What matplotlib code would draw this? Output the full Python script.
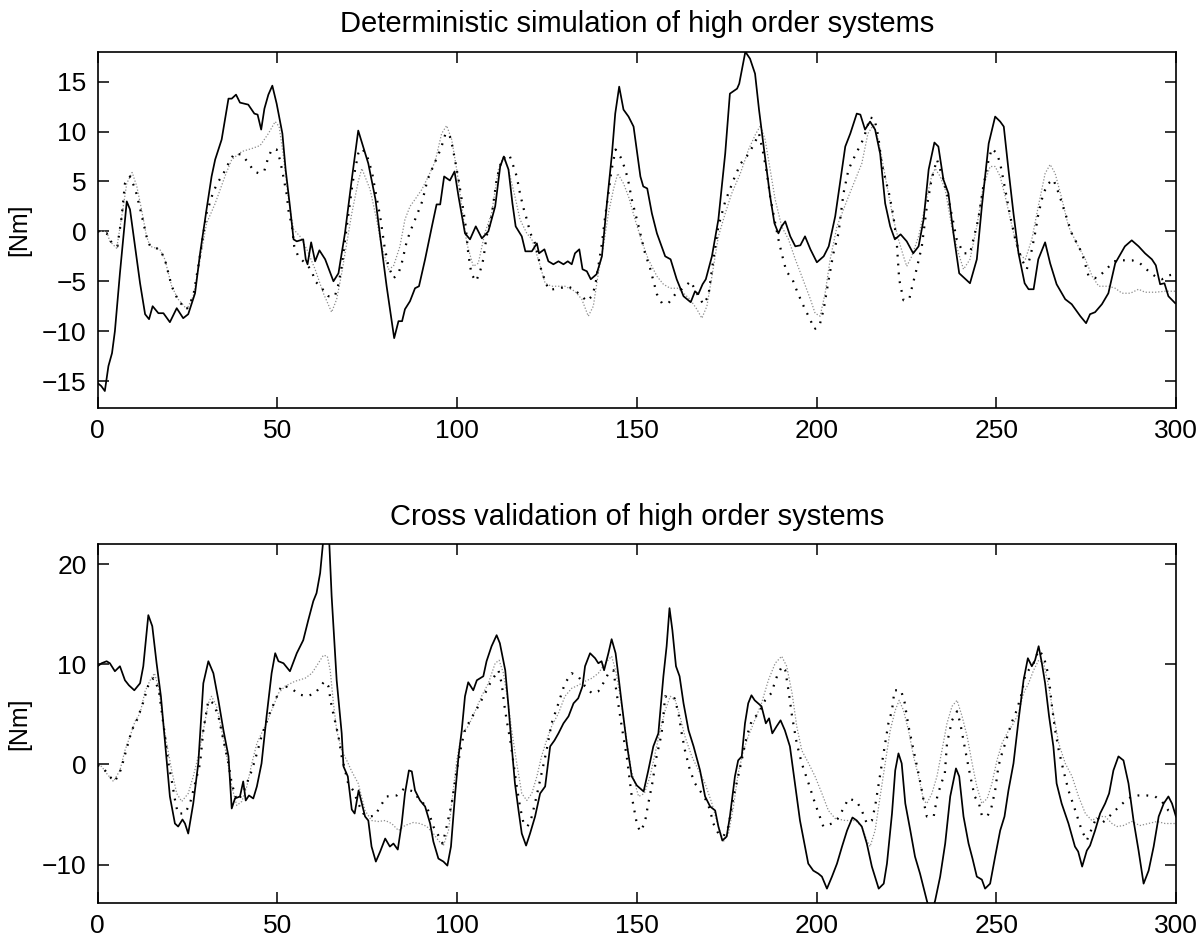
import numpy as np
import matplotlib
matplotlib.use("Agg")
import matplotlib.pyplot as plt

# ── data (x, y) ────────────────────────────────────────────────────
top_solid = [
    (0, -15.2), (1, -15.5), (2, -16), (3, -13.5), (4, -12.2), (4.8, -10), (6.2, -4.2), (8.1, 3), (9, 2.2),
    (10.4, -1.5), (11.8, -5.2), (13.2, -8.3), (14.3, -8.8), (15.3, -7.5), (16.9, -8.2), (18.3, -8.2),
    (20.1, -9.1), (22, -7.7), (23.8, -8.7), (25.2, -8.3), (27.1, -6.2), (28.5, -2.2), (30.3, 2.2),
    (31.7, 5.5), (32.7, 7.2), (34.5, 9.2), (36.4, 13.3), (37.3, 13.3), (38.5, 13.7), (39.6, 12.9),
    (41.9, 12.7), (43.6, 11.8), (44.5, 11.7), (45.5, 10.2), (46.4, 12.3), (47.5, 13.7), (48.6, 14.6),
    (49.8, 12.8), (51.4, 9.8), (52.3, 6.2), (53.5, 2.5), (54.5, -0.8), (55.4, -1), (57.2, -0.8),
    (57.9, -2.8), (58.4, -3.3), (59.4, -1.1), (60.5, -3), (61.7, -1.9), (63.3, -2.8), (65.6, -5),
    (67, -4.2), (68.8, -0.2), (70.7, 5.2), (72.5, 10.1), (75.3, 6.8), (77.3, 3.2), (78.6, -0.5),
    (80.4, -5.5), (82.5, -10.7), (83.7, -9), (84.7, -9), (85.5, -7.8), (86.9, -7), (88.3, -5.7),
    (89.4, -5.5), (91.1, -2.8), (93, 0.5), (94.3, 2.7), (95.3, 2.7), (96.4, 5.5), (98, 5.1), (99.3, 6),
    (100.4, 3.5), (102.2, -0.2), (103.6, -0.8), (105.2, 0.5), (106.9, -0.7), (108.7, 0), (110.6, 2.5),
    (112, 6.5), (113, 7.5), (114.3, 6.2), (115.4, 2.8), (116.3, 0.5), (118, -0.5), (119, -2), (120.8, -2),
    (122.2, -1.2), (122.8, -2.2), (124.3, -1.8), (125.4, -3), (126.8, -3.3), (128.2, -3), (129.6, -3.3),
    (130.8, -3), (131.9, -3.3), (132.8, -2.2), (134, -1.8), (134.9, -3.8), (136.1, -4), (137.2, -4.8),
    (138.8, -4.3), (140.3, -2.5), (141.6, 2.5), (143.1, 7.8), (144, 11.8), (145.1, 14.5), (146.3, 12.2),
    (147.7, 11.5), (149.1, 10.5), (151, 5.5), (151.8, 4.5), (152.9, 4.3), (154.2, 1.8), (155.6, -0.2),
    (157.9, -2.5), (159.4, -2.8), (161.1, -4.8), (163, -6.5), (165, -7.1), (166.2, -6), (167.1, -6.3),
    (168.3, -5.3), (169.2, -4.8), (170.9, -2.5), (172.7, 1.2), (174.6, 7.8), (175.9, 13.8), (177.9, 14.3),
    (178.5, 14.8), (180.2, 18), (181.5, 17.3), (182.9, 15.8), (184, 12.2), (185.4, 8.2), (187.1, 3.5),
    (188.3, 0.8), (189.4, -0.2), (190.3, 0.5), (191.3, 1), (192.7, -0.5), (194.1, -1.5), (195.5, -1.4),
    (196.8, -0.5), (198.3, -1.8), (200.1, -3.1), (202, -2.5), (203.4, -1.5), (205.2, 1.5), (208, 8.5),
    (209.4, 9.8), (211.2, 11.8), (212.2, 11.7), (213.5, 10.2), (214.9, 11), (216.3, 10.2), (217.7, 7.8),
    (219.1, 2.8), (220.5, 0.5), (221.8, -0.8), (223.4, -0.3), (225.1, -1), (226.9, -2.2), (228.4, -1.5),
    (229.8, 1.2), (231.2, 6.2), (232.8, 8.9), (233.9, 8.5), (235.3, 5.2), (236.7, 3.8), (238.1, -0.2),
    (239.7, -4.2), (241.2, -4.7), (242.7, -5.2), (244.6, -2.8), (246, 2.5), (247.9, 8.8), (249.7, 11.5),
    (251.1, 11), (252.1, 10.5), (253.4, 6.2), (254.8, 1.8), (256.2, -2.2), (257.9, -5.2), (259, -5.8),
    (260.4, -5.8), (261.7, -2.8), (263.6, -1.1), (265, -3.2), (266.8, -5.3), (269.2, -6.8), (271, -7.3),
    (273.4, -8.5), (275, -9.2), (276.1, -8.3), (277.5, -8.1), (279.4, -7.3), (281.2, -6.2), (283.1, -3.2),
    (285.8, -1.5), (287.7, -0.9), (289.6, -1.5), (291.4, -2.2), (293.3, -2.8), (294.4, -3.4), (295.6, -5.3),
    (296.8, -5.2), (297.9, -6.5), (299.8, -7.2),
]

top_dotted = [
    (0, 0), (2.5, -0.2), (4, -1.2), (5.5, -1.5), (6.7, 1.5), (7.6, 4.8), (9, 5.5), (10.5, 4.2), (12, 2),
    (13.6, -0.5), (14.6, -1.5), (17.3, -1.8), (18.7, -2.8), (20.6, -5.5), (22.5, -7), (24.8, -7.8),
    (26.6, -6.5), (28, -3.5), (30.3, 1.8), (32.2, 4), (33.6, 5), (35, 5.8), (36.4, 6.8), (38, 7.8),
    (40, 7.7), (41.9, 6.9), (43.5, 6), (45, 5.8), (46.4, 6.1), (47.3, 7.2), (48.4, 8.2), (49.8, 8.2),
    (50.7, 7.2), (51.4, 6), (52.6, 3.7), (53.2, 1.8), (54, 0.7), (54.7, -1.5), (55.8, -2.5), (58.6, -3.5),
    (59.6, -4), (60.5, -5), (61.9, -5.5), (64.2, -6.5), (66, -6.5), (67, -5.3), (67.9, -3.5), (69.5, 1),
    (71, 5), (72.5, 7.8), (73.5, 8.3), (74.6, 7.8), (75.3, 7.2), (76.4, 5.8), (77.4, 3.8), (78.6, 1.5),
    (79.8, -1.5), (80.9, -3.5), (82.3, -4.7), (83.7, -4.2), (84.6, -3.2), (86, -1), (87.2, 0.2), (89, 1.8),
    (90.3, 3), (91.8, 5.2), (93.1, 6.3), (94.3, 7.3), (95.5, 8.3), (96.7, 9.7), (97.8, 9.8), (98.7, 8.5),
    (99.4, 7.2), (100.4, 5.2), (101.5, 2.7), (102.4, 0.5), (103.1, -2.2), (104, -4.3), (105.3, -5),
    (106.4, -4), (107.3, -2.8), (108.2, -0.5), (109.6, 1.5), (111, 5.2), (112.4, 7.2), (114.5, 7.7),
    (115.7, 6.5), (116.6, 5.5), (117.5, 3.8), (118.5, 2.3), (119.4, 1.2), (120.4, -0.2), (121.7, -1.2),
    (123.5, -4), (125.4, -5.8), (126.8, -5.8), (128.6, -5.7), (130.8, -5.5), (132.4, -5.8), (134.7, -6.5),
    (136.1, -7), (137.5, -6.5), (138.4, -5.5), (139.3, -3.5), (140.3, -1.2), (141.2, 1.5), (142.1, 3.8),
    (143, 6.2), (144.1, 8.2), (145.4, 7.5), (146.6, 6.4), (147.5, 5.3), (148.6, 3.2), (150.5, 0.5),
    (152.3, -2.2), (153.7, -3.7), (155.6, -6.3), (157, -7.2), (158.8, -7.2), (160.7, -6.3), (162.5, -5.8),
    (165, -5), (166.7, -6.2), (168.5, -7.3), (169.9, -6.5), (171.3, -2.8), (172.7, 0.5), (174.6, 3),
    (175.9, 4.2), (177.3, 5.5), (178.9, 6.8), (181, 7.7), (182.7, 8.8), (184, 9.8), (185.2, 7.8),
    (186.2, 5.8), (187.1, 3.5), (188.3, 1.2), (189.4, -0.8), (190.3, -2.2), (191.6, -4), (193.3, -4.8),
    (194.8, -6.2), (196.8, -7.8), (198.2, -8.8), (199.4, -9.8), (200.8, -9.5), (202, -7.8), (203.4, -4.8),
    (204.7, -2.2), (206.1, -0.2), (207.5, 3.8), (208.9, 6.2), (210.6, 7.5), (212, 8.5), (213.1, 9.3),
    (214.9, 11.4), (216.1, 11.3), (217.2, 9.5), (218.1, 6.8), (219.2, 5.2), (220.3, 3.6), (221.4, 1.5),
    (222.3, -1), (223, -4.8), (224.2, -6.9), (225.8, -6.8), (226.5, -5.7), (227.9, -3.7), (229.3, -1.5),
    (230.7, 2.5), (232, 5.2), (233.5, 7.2), (235.3, 5.2), (236.7, 3.2), (237.9, 1.2), (239, -0.8),
    (240.9, -2.2), (242.7, -2.2), (245, 1.2), (246.4, 4.5), (247.9, 7.2), (248.8, 8.3), (250.2, 7.8),
    (251.1, 6.8), (252.5, 4.2), (253.9, 1.5), (255.3, -0.8), (257.1, -2.8), (258.5, -3.8), (259.7, -2.2),
    (260.8, -0.2), (261.7, 1.7), (263.1, 3.8), (264.5, 4.8), (265.9, 5.2), (267.4, 3.8), (269.2, 1.8),
    (271, -0.2), (273.9, -2.2), (275.7, -4.5), (278, -4.7), (280.4, -3.9), (282.7, -3), (285, -2.9),
    (287.8, -2.9), (290, -3.2), (292.4, -4), (294.2, -4.5), (296.1, -4.8), (298.1, -4.4), (299.7, -4.3),
]

top_gray = [
    (0, 0), (2.5, 0), (3.4, -1), (5.3, -1.7), (6.7, 1.5), (8.1, 4.8), (9.6, 5.9), (10.9, 4.5), (12.2, 2.2),
    (13.6, -0.5), (14.6, -1.5), (17.3, -1.8), (18.7, -2.8), (20.6, -5.5), (22.4, -6.8), (24.8, -7.8),
    (26.6, -6.5), (28.5, -2.8), (30.3, 0.8), (32.7, 2.8), (35.4, 5.5), (37.3, 7.2), (40.1, 8), (42.9, 8.3),
    (45.2, 8.6), (47.5, 9.8), (49.4, 11), (50.5, 10.5), (51.7, 7.5), (53.1, 3.2), (54.5, 0.2), (56.3, -0.5),
    (58.2, -1.8), (60.5, -3.8), (62.8, -6.2), (65.1, -8.1), (66.5, -6.8), (67.9, -4.2), (70.7, 1.8),
    (72.5, 5), (73.5, 6.3), (75.8, 4.2), (77.6, 1.2), (79, -1.5), (80.9, -3.8), (82.3, -3.5), (84.1, -1.5),
    (85.5, 1.2), (86.9, 2.5), (88.3, 3.2), (90.2, 4.2), (92, 5.5), (93.9, 7), (95.7, 9.8), (97.1, 10.6),
    (98.5, 9.2), (99.9, 6.2), (101.3, 2.5), (102.7, -1.2), (104.5, -3.5), (105.9, -3.2), (107.7, -0.2),
    (109.6, 1.8), (111.5, 6.2), (112.9, 7.5), (114.3, 6.2), (116.1, 3.5), (117.5, 1.2), (119.4, -0.2),
    (120.8, -0.8), (122.6, -2.8), (124.5, -5.2), (126.3, -5.5), (130, -5.5), (132.8, -6), (134.7, -6.8),
    (136.5, -8.5), (137.9, -7.5), (139.3, -4.2), (140.7, -1.5), (142.1, 1.8), (143.5, 4.2), (144.7, 5.8),
    (146.3, 4.8), (147.7, 3.5), (149.5, 1.2), (151.4, -1), (153.2, -2.8), (155.6, -4.5), (157.4, -5.3),
    (159.3, -5.7), (161.6, -5.7), (163, -6.2), (164.8, -6.8), (166.7, -7.8), (168.1, -8.7), (169.5, -7.5),
    (170.9, -4.5), (172.7, -0.5), (174.6, 1.8), (176.4, 3.8), (178.8, 5.8), (181.1, 8.2), (183, 9.7),
    (184.4, 10.6), (185.7, 9.2), (187.1, 6.2), (188.5, 3.2), (190.3, 0.5), (192.2, -0.8), (194.1, -2.8),
    (195.9, -4.5), (198.3, -6.8), (199.6, -8.2), (201, -8.5), (202.4, -6.2), (203.8, -2.8), (205.7, 0.5),
    (207.5, 2.2), (208.9, 3.5), (210.8, 5.2), (212.6, 6.8), (214.3, 9.8), (215.9, 10.7), (217.2, 9.2),
    (218.6, 6.5), (220, 3.8), (221.4, 1.2), (222.8, -0.8), (224.2, -2.5), (225.1, -3.5), (226.5, -2.5),
    (228.4, -0.5), (230.2, 2.5), (232, 5.5), (233, 6.3), (234.4, 5.5), (235.8, 4.2), (237.6, 0.5),
    (239.5, -2.2), (240.9, -3.8), (242.7, -2.8), (244.6, 0.5), (246.4, 4.5), (248.3, 6.5), (249.7, 6.5),
    (251.1, 5.5), (252.5, 3.5), (254.4, 0.5), (256.2, -2.2), (258.1, -2.8), (259.9, -0.8), (261.7, 2.5),
    (263.6, 5.8), (265, 6.7), (266.4, 5.8), (268.3, 3.2), (270.1, 0.5), (272.4, -1.2), (274.8, -2.8),
    (276.7, -4.5), (278.5, -5.5), (281.3, -5.5), (283.1, -5.7), (285, -6.2), (287.3, -6.2), (289.6, -5.8),
    (291.4, -6.1), (294.2, -6.1), (297, -6), (299.8, -6),
]

bot_solid = [
    (0, 9.8), (1.1, 10.1), (2.5, 10.3), (3.4, 10.1), (4.8, 9.3), (6.2, 9.8), (7.6, 8.4), (8.7, 7.9),
    (10.2, 7.4), (11.8, 8.1), (12.7, 9.8), (13.4, 12.4), (14.1, 14.9), (15.2, 13.8), (16.4, 10.1),
    (17.6, 6.8), (18.7, 2.4), (20.1, -3.2), (21.5, -5.9), (22.4, -6.2), (23.6, -5.5), (24.3, -5.9),
    (25.2, -6.9), (26.6, -3.9), (28, 0.1), (29.4, 8.1), (30.8, 10.3), (32.2, 9.1), (33.6, 6.4), (35, 3.4),
    (36.4, 0.8), (37.3, -4.4), (38.2, -3.4), (39.6, -3.2), (40.5, -1.7), (41.2, -3.6), (42.1, -3.1),
    (43.3, -3.4), (44.3, -2.2), (45.6, 0.1), (47, 4.8), (48.4, 9.1), (49.4, 11.1), (50.3, 10.3),
    (51.7, 10.1), (53.5, 9.3), (55.4, 11.1), (57.2, 12.4), (58.6, 14.4), (60, 16.3), (60.9, 17.1),
    (61.9, 19.1), (62.8, 22.5), (63.6, 24), (64.4, 22.5), (65.1, 16.8), (66.5, 8.4), (67.9, 3.1),
    (68.4, -0.2), (69.6, -1.2), (70.7, -4.5), (71.5, -4.9), (72.6, -2.6), (73.5, -3.9), (74.4, -5.2),
    (75.3, -5.6), (76.2, -8.2), (77.4, -9.7), (78.6, -8.7), (80, -7.4), (81.3, -8.2), (82.3, -7.9),
    (83.5, -8.5), (84.6, -5.9), (85.5, -2.9), (86.6, -0.6), (87.4, -0.7), (88.3, -2.6), (89.7, -3.6),
    (91.1, -4.2), (92.5, -5.9), (93.4, -7.7), (94.8, -9.4), (96.2, -9.7), (97.3, -10.1), (98.3, -8.2),
    (99.4, -3.2), (100.4, 0.8), (101.3, 3.4), (102.2, 6.8), (103.1, 8.2), (104.5, 7.4), (105.5, 8.4),
    (107.3, 8.8), (108.2, 10.3), (109.6, 11.8), (111, 12.9), (111.9, 12.1), (113.4, 9.4), (114.3, 5.8),
    (115.2, 1.8), (116.1, -1.9), (117.1, -4.6), (118, -6.9), (119.2, -8.1), (120.3, -6.9), (121.7, -5.2),
    (123.1, -2.9), (124.5, -2.2), (125.9, 1.8), (127.1, 2.4), (128.2, 3.1), (129.6, 4.1), (131, 4.8),
    (132.4, 6.1), (133.7, 6.6), (134.9, 7.8), (135.6, 9.8), (137, 11.1), (138.4, 10.6), (139.3, 10.1),
    (140.2, 10.3), (140.9, 9.4), (142.1, 11.1), (143, 12.5), (144.1, 11.1), (144.9, 8.8), (145.8, 6.1),
    (147.2, 2.1), (148.6, -1.2), (150, -2.1), (151.9, -2.7), (153.2, -0.6), (154.6, 1.8), (156, 3.1),
    (157.4, 8.8), (158.3, 11.8), (159.1, 15.6), (159.9, 13.4), (160.9, 9.8), (161.9, 8.8), (163, 6.1),
    (164.4, 3.4), (165.8, 1.8), (167.6, -0.6), (169, -3.2), (170.4, -4.2), (171.8, -4.6), (172.7, -6.2),
    (173.8, -7.6), (175, -7.2), (175.9, -5.2), (177.3, -1.2), (178.2, 0.4), (179.2, 0.8), (180.1, 4.1),
    (181, 6.1), (181.9, 6.9), (182.8, 6.4), (184.7, 5.8), (185.9, 4.1), (186.8, 4.6), (187.7, 3.1),
    (188.9, 3.8), (190, 4.4), (191.2, 3.4), (192.6, 1.8), (194, -1.9), (195.4, -5.6), (196.8, -8.2),
    (197.7, -9.9), (199.1, -10.6), (200.5, -10.9), (201.5, -11.2), (202.9, -12.4), (204.3, -11.2),
    (205.7, -9.9), (207.1, -8.2), (208.5, -6.6), (210, -5.3), (211.2, -5.6), (212.6, -6.2), (214, -7.9),
    (215.4, -10.2), (217.3, -12.4), (218.7, -11.9), (219.6, -9.9), (221, -4.9), (221.9, -0.6), (222.8, 1.1),
    (223.7, 0.1), (224.7, -3.9), (226.1, -6.6), (227.4, -9.2), (228.8, -10.9), (230.7, -13.6), (231.8, -15),
    (233, -13.6), (234.4, -11.2), (235.8, -7.9), (237.2, -3.2), (238.8, -0.4), (239.7, -1.2), (240.9, -5.2),
    (242.3, -7.9), (243.4, -9.4), (244.6, -11.2), (246, -11.5), (246.9, -12.4), (248.3, -11.9),
    (249.7, -9.2), (251.1, -6.6), (252.3, -5.2), (253.4, -2.6), (254.8, 0.1), (256.2, 4.4), (257.6, 8.4),
    (258.8, 10.6), (259.9, 9.8), (260.8, 10.4), (261.8, 11.8), (262.7, 10.1), (263.6, 8.1), (264.7, 4.8),
    (265.9, 1.8), (266.8, -1.9), (268.2, -3.9), (270.1, -5.9), (271.9, -8.2), (272.8, -8.7), (273.9, -10.2),
    (275.2, -8.6), (276.1, -8.1), (277.5, -6.6), (278.9, -4.9), (280.3, -3.9), (281.4, -2.9), (282.6, -0.6),
    (284, 0.8), (285.4, 0.4), (286.8, -1.9), (288.2, -5.6), (289.6, -8.6), (291, -11.9), (292.4, -10.6),
    (293.8, -8.2), (295.2, -5.2), (296.6, -3.9), (297.9, -3.2), (298.9, -3.9), (300, -5.2),
]

bot_dotted = [
    (0, -0.1), (1.5, -0.3), (3, -1.1), (4.8, -1.7), (6.5, -0.5), (8, 1.5), (9.5, 3.4), (11, 4.5),
    (12.5, 6), (14, 7.8), (15.5, 8.6), (17, 7.5), (18.3, 4), (19.7, 0.1), (20.6, -1.6), (21.5, -3.5),
    (22.3, -4.9), (24.3, -4.9), (25.7, -3.9), (27.1, -1.9), (28.5, 0.1), (29.4, 3.4), (30.8, 6.4),
    (32.2, 6.1), (33.6, 4.8), (35, 2.4), (36.4, 0.1), (37.3, -1.9), (38.7, -3.6), (40.1, -3.1),
    (41.5, -1.9), (42.9, -0.6), (44.3, 1.1), (45.6, 2.8), (47.5, 4.8), (49.4, 6.4), (51.2, 7.9),
    (53.9, 7.6), (55.9, 7), (58.2, 6.8), (60.5, 7.1), (63.1, 8.3), (64.2, 7.8), (65.1, 5.8), (66, 4.4),
    (67, 2.8), (67.9, 0.8), (69.7, -1.9), (71.1, -2.6), (72.5, -3.9), (73.9, -4.9), (75.8, -5.2),
    (77.2, -5.1), (78.6, -4.2), (80.4, -3.2), (83.2, -3.1), (85.3, -2.4), (87.8, -2.7), (89.7, -3.6),
    (91.6, -4.2), (93.4, -6.2), (94.8, -7.1), (96, -7.9), (97.1, -6.2), (98.5, -3.9), (99.9, -0.6),
    (101.3, 2.1), (102.2, 3.4), (103.6, 4.4), (105.9, 5.8), (107.8, 7.1), (109.2, 8.1), (110.4, 8.8),
    (111.5, 9.4), (112.4, 8.1), (113.2, 5.8), (113.8, 4.4), (114.8, 2.4), (115.7, 0.1), (116.6, -2.2),
    (117.5, -4.2), (118.5, -5.9), (119.6, -6.2), (120.8, -5.2), (122.1, -3.2), (123.5, -0.9), (124.9, 1.4),
    (126.3, 4.1), (128.2, 6.1), (130, 8.1), (131.9, 9.1), (133.7, 8.8), (135.6, 7.8), (137.5, 7.1),
    (139.3, 7.3), (141, 8.3), (142.1, 9.1), (143.5, 9.4), (144.4, 7.1), (145.8, 3.8), (147.2, 0.8),
    (148.6, -3.2), (150, -5.9), (150.9, -6.7), (152.2, -5.9), (153.2, -3.9), (154.3, -1.9), (155.5, 0.8),
    (156.5, 2.4), (157, 3.4), (157.9, 6.8), (159.3, 6.6), (160.5, 6.6), (161.6, 5.1), (162.5, 3.1),
    (163.4, 1.4), (164.8, -0.6), (166.2, -1.9), (168.1, -2.9), (169.5, -3.7), (170.4, -4.6), (171.3, -5.9),
    (172.7, -6.9), (174.1, -7.2), (175.5, -6.2), (176.9, -3.2), (178.2, -1.2), (179.4, 0.8), (180.6, 2.8),
    (182, 4.4), (183.9, 5.1), (185.7, 6.4), (187.4, 7.1), (189, 8.8), (190.4, 9.8), (191.3, 9.4),
    (192.2, 7.4), (193.2, 4.8), (194.5, 2.1), (195.9, 0.1), (197.8, -1.9), (199.6, -3.9), (201.9, -6.2),
    (204.3, -5.9), (205.9, -5.4), (207.5, -4.4), (208.9, -3.4), (211.2, -3.7), (212.6, -4.6), (214, -5.9),
    (215.4, -5.6), (216.3, -4.2), (217.3, -1.9), (218.2, 0.1), (219.1, 2.1), (220, 4.1), (221, 5.4),
    (221.7, 7.4), (223.5, 7.4), (224.5, 6.2), (225.6, 3.8), (227, 1.4), (228.2, -0.6), (229.1, -2.2),
    (230.1, -4.2), (230.7, -5.2), (232.6, -5.2), (233.6, -3.2), (234.7, -1.9), (235.7, -0.9), (236.3, 2.1),
    (237.7, 4.4), (239.1, 5.3), (240, 4.1), (241.4, 1.4), (242.8, -1.2), (244, -3.2), (245.2, -3.9),
    (246, -5.1), (247.5, -5.2), (248.6, -4.4), (249.7, -2.6), (250.6, -0.2), (251.6, 1.1), (252.5, 2.1),
    (254.2, 4.1), (255.7, 5.4), (257.1, 7.1), (258, 8.8), (259, 9.4), (260.4, 10.1), (261.8, 11.4),
    (263.2, 10.8), (264.6, 8.8), (265.5, 5.8), (266.4, 3.4), (267.4, 1.4), (268.7, -0.6), (270.1, -2.6),
    (272, -4.6), (273.8, -6.6), (275.2, -7.6), (276.6, -6.4), (278, -5.2), (279.2, -5.9), (280.3, -5.6),
    (281.7, -5.1), (283.1, -4.6), (284.5, -4.1), (285.8, -3.7), (287.7, -3.2), (289.5, -3.1), (291.9, -3.1),
    (294.2, -3.2), (296.1, -3.7), (297.9, -4.6), (299.3, -4.9),
]

bot_gray = [
    (0, -0.1), (1.1, -0.2), (2.5, -0.9), (4.4, -1.7), (6.2, -0.6), (7.6, 1.4), (9, 2.8), (10.4, 4.3),
    (11.8, 5.1), (13.2, 7.3), (14.6, 8.4), (15.8, 9.1), (16.9, 7.8), (18, 4.8), (19.2, 2.1), (20.6, -0.6),
    (22, -2.9), (23.4, -3.7), (25.2, -2.9), (26.6, -1.2), (28, 0.8), (29.4, 3.4), (30.8, 6.1), (31.7, 6.8),
    (33.1, 5.8), (34.5, 3.4), (35.9, 0.8), (37.3, -2.2), (38.7, -4.1), (40.1, -3.7), (41.5, -2.2),
    (42.9, 0.1), (44.3, 2.1), (45.6, 3.1), (47, 4.1), (48.4, 5.4), (50.3, 7.1), (52.1, 7.8), (54.9, 8.3),
    (57.7, 8.6), (59.6, 9.1), (61.4, 10.1), (62.8, 10.9), (63.9, 10.8), (64.7, 9.4), (65.6, 6.1),
    (66.5, 3.4), (67.9, 1.4), (69.3, 0.4), (70.7, -0.7), (72.5, -1.9), (74.4, -4.6), (76.2, -5.6),
    (78.1, -5.7), (80, -5.6), (81.8, -5.9), (83.7, -6.6), (85.5, -6.1), (87.8, -5.8), (89.7, -5.9),
    (91.6, -6.2), (93.4, -6.9), (94.8, -7.6), (96.2, -8.1), (97.6, -6.6), (98.5, -3.9), (99.9, 0.4),
    (101.3, 3.1), (103.1, 3.8), (105, 5.3), (106.8, 6.8), (108.7, 8.1), (110.6, 10.1), (111.7, 10.4),
    (112.9, 9.1), (114.1, 6.4), (115.2, 3.4), (116.6, 0.1), (118, -2.9), (119.4, -3.6), (120.8, -2.9),
    (122.2, -1.2), (123.5, 0.8), (124.9, 2.4), (126.3, 3.8), (128.2, 5.1), (130, 6.8), (131.9, 7.6),
    (133.7, 7.9), (135.6, 8.3), (137.5, 8.6), (139.3, 9.1), (141.2, 10.1), (143, 10.8), (144.1, 9.4),
    (145.4, 6.8), (146.8, 3.4), (148.4, -0.5), (150.5, -3.2), (152.1, -2.9), (153.7, -1.2), (155.1, 1.1),
    (156.5, 3.4), (157.9, 5.4), (159.3, 6.8), (160.7, 6.4), (162, 4.8), (163.4, 2.8), (165.3, 0.8),
    (167.2, -0.6), (169, -1.9), (170.9, -3.9), (172.7, -6.2), (174.1, -7.7), (175.5, -6.9), (176.9, -4.2),
    (178.2, -0.9), (179.7, 1.4), (181, 2.8), (182.8, 4.4), (184.7, 6.1), (186.6, 8.4), (188.5, 10.1),
    (190.3, 10.8), (191.7, 9.8), (193.2, 7.1), (194.5, 3.8), (195.9, 1.4), (197.8, 0.1), (199.6, -1.2),
    (201.5, -2.9), (203.3, -4.6), (205.2, -5.4), (208, -5.6), (210.8, -5.6), (212.6, -6.2), (214, -7.6),
    (214.9, -8.2), (216.3, -6.6), (217.7, -3.2), (219.1, 0.1), (220.5, 3.4), (221.9, 5.4), (223, 6.4),
    (224.2, 5.4), (225.6, 3.4), (227, 0.8), (228.4, -1.2), (229.8, -3.6), (230.7, -3.9), (232.1, -2.9),
    (233.5, -1.2), (234.9, 1.4), (236.3, 4.1), (237.7, 5.8), (239.1, 6.4), (240.5, 4.8), (241.9, 2.8),
    (243.3, 0.1), (244.6, -2.2), (246, -3.9), (247.5, -3.4), (248.8, -1.9), (250.2, 0.4), (251.6, 2.1),
    (253, 3.1), (254.8, 4.1), (256.2, 5.1), (257.6, 7.1), (259, 8.1), (260.4, 9.4), (261.8, 10.4),
    (263.2, 10.1), (264.6, 7.8), (266, 4.8), (267.4, 2.1), (269.2, 0.1), (271.1, -1.2), (272.9, -3.2),
    (274.8, -4.9), (276.6, -5.6), (278.5, -5.2), (280.3, -5.2), (282.2, -5.9), (283.6, -6.2), (285.4, -6.1),
    (287.7, -5.7), (290, -6.1), (292.4, -5.9), (294.7, -5.7), (297, -5.9), (299.8, -5.9),
]

titles = ["Deterministic simulation of high order systems", "Cross validation of high order systems"]
x_ticks = [0, 50, 100, 150, 200, 250, 300]
top_yticks = [-15, -10, -5, 0, 5, 10, 15]
bot_yticks = [-10, 0, 10, 20]

# ── figure ─────────────────────────────────────────────────────────
plt.rcParams["font.family"] = ["Liberation Sans", "DejaVu Sans"]
fig = plt.figure(figsize=(12.04, 9.44), dpi=100)
ax1 = fig.add_axes([0.0811, 0.5678, 0.8956, 0.3774])
ax2 = fig.add_axes([0.0811, 0.0438, 0.8956, 0.3799])


def draw(ax, solid, dotted, gray, title, yticks, ylim):
    for series, kw in (
        (gray, dict(color="0.55", lw=0.9, linestyle=(0, (1, 1.5)))),
        (dotted, dict(color="black", lw=1.6, linestyle=(0, (0.8, 3.2)))),
        (solid, dict(color="black", lw=1.25, linestyle="-")),
    ):
        xs, ys = np.array(series).T
        ax.plot(xs, ys, **kw)
    ax.set_xlim(0, 300)
    ax.set_ylim(*ylim)
    ax.set_xticks(x_ticks)
    ax.set_yticks(yticks)
    ax.set_yticklabels([str(v).replace("-", "\u2212") for v in yticks])
    ax.tick_params(direction="in", length=8, width=1.1, labelsize=19, top=True, right=True, pad=8)
    for s in ax.spines.values():
        s.set_linewidth(1.2)
    ax.set_title(title, fontsize=21, pad=14)
    ax.set_ylabel("[Nm]", fontsize=18, labelpad=8)


draw(ax1, top_solid, top_dotted, top_gray, titles[0], top_yticks, (-17.7, 18))
draw(ax2, bot_solid, bot_dotted, bot_gray, titles[1], bot_yticks, (-13.8, 22))

fig.savefig("out.png", dpi=100)
